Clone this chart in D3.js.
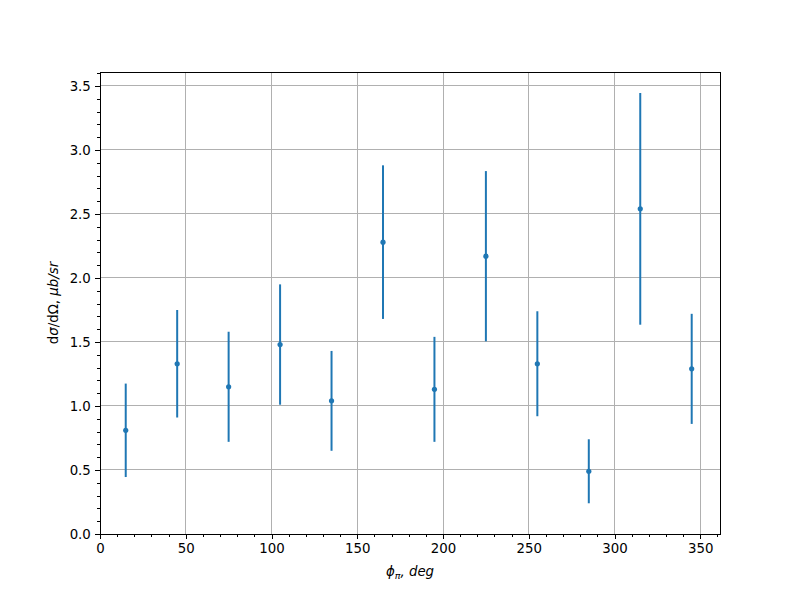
<!DOCTYPE html>
<html><head><meta charset="utf-8">
<script src="https://cdn.jsdelivr.net/npm/d3@7"></script>
<style>body{margin:0;background:#fff}svg{display:block}text{font-family:"DejaVu Sans",sans-serif}</style>
</head><body>
<svg id="c" width="800" height="600"></svg>
<script>
const phi = [15, 45, 75, 105, 135, 165, 195, 225, 255, 285, 315, 345];
const xsec = [0.81, 1.33, 1.15, 1.48, 1.04, 2.28, 1.13, 2.17, 1.33, 0.49, 2.54, 1.29];
const xsecErr = [0.365, 0.42, 0.43, 0.47, 0.39, 0.60, 0.41, 0.665, 0.41, 0.25, 0.905, 0.43];
const xTicks = [0, 50, 100, 150, 200, 250, 300, 350];
const yTicks = [0, 0.5, 1.0, 1.5, 2.0, 2.5, 3.0, 3.5];

const svg = d3.select("#c");
const L = 100, R = 720, T = 72, B = 534;
const x = d3.scaleLinear().domain([0, 361.5]).range([L, R]);
const y = d3.scaleLinear().domain([0, 3.609]).range([B, T]);
const color = "#1f77b4";

// grid
const g = svg.append("g").attr("shape-rendering", "crispEdges");
g.selectAll("line.gx").data(xTicks).join("line")
  .attr("x1", d => x(d)).attr("x2", d => x(d)).attr("y1", T).attr("y2", B)
  .attr("stroke", "#b0b0b0").attr("stroke-width", 1);
g.selectAll("line.gy").data(yTicks).join("line")
  .attr("y1", d => y(d)).attr("y2", d => y(d)).attr("x1", L).attr("x2", R)
  .attr("stroke", "#b0b0b0").attr("stroke-width", 1);

// error bars
const data = phi.map((p, i) => ({p, v: xsec[i], e: xsecErr[i]}));
svg.append("g").selectAll("line").data(data).join("line")
  .attr("x1", d => x(d.p)).attr("x2", d => x(d.p))
  .attr("y1", d => y(d.v - d.e)).attr("y2", d => y(d.v + d.e))
  .attr("stroke", color).attr("stroke-width", 2);
svg.append("g").selectAll("circle").data(data).join("circle")
  .attr("cx", d => x(d.p)).attr("cy", d => y(d.v)).attr("r", 2.6)
  .attr("fill", color);

// axes
const xAxis = d3.axisBottom(x).tickValues(xTicks).tickFormat(d3.format("d")).tickSizeOuter(0).tickSize(4.67).tickPadding(4.5);
const xMinor = d3.axisBottom(x).tickValues(d3.range(0, 361, 10).filter(v => v % 50 !== 0)).tickFormat("").tickSizeOuter(0).tickSize(2.67);
const yAxis = d3.axisLeft(y).tickValues(yTicks).tickFormat(d3.format(".1f")).tickSizeOuter(0).tickSize(4.67).tickPadding(4.5);
const yMinor = d3.axisLeft(y).tickValues(d3.range(1, 37).filter(v => v % 5 !== 0).map(v => v / 10)).tickFormat("").tickSizeOuter(0).tickSize(2.67);

function style(sel) {
  sel.select(".domain").remove();
  sel.selectAll("line").attr("stroke", "#000").attr("stroke-width", 1).attr("shape-rendering", "crispEdges");
  sel.selectAll("text").attr("font-size", "13.33px").attr("fill", "#000").attr("font-family", "DejaVu Sans");
}
svg.append("g").attr("transform", `translate(0,${B})`).call(xAxis).call(style);
svg.append("g").attr("transform", `translate(0,${B})`).call(xMinor).call(style);
svg.append("g").attr("transform", `translate(${L},0)`).call(yAxis).call(style);
svg.append("g").attr("transform", `translate(${L},0)`).call(yMinor).call(style);

// frame
svg.append("rect").attr("x", L).attr("y", T).attr("width", R - L).attr("height", B - T)
  .attr("fill", "none").attr("stroke", "#000").attr("stroke-width", 1).attr("shape-rendering", "crispEdges");

// labels
const xl = svg.append("text").attr("x", 410).attr("y", 576).attr("text-anchor", "middle")
  .attr("font-size", "13.33px").attr("font-style", "italic");
xl.append("tspan").text("ϕ");
xl.append("tspan").text("π").attr("font-size", "9.5px").attr("dy", 2.5);
xl.append("tspan").text(", deg").attr("dy", -2.5);

const yl = svg.append("text").attr("transform", "translate(58,303) rotate(-90)")
  .attr("text-anchor", "middle").attr("font-size", "13.33px");
yl.append("tspan").text("d");
yl.append("tspan").text("σ").attr("font-style", "italic");
yl.append("tspan").text("/dΩ, ");
yl.append("tspan").text("μb/sr").attr("font-style", "italic");
</script>
</body></html>
